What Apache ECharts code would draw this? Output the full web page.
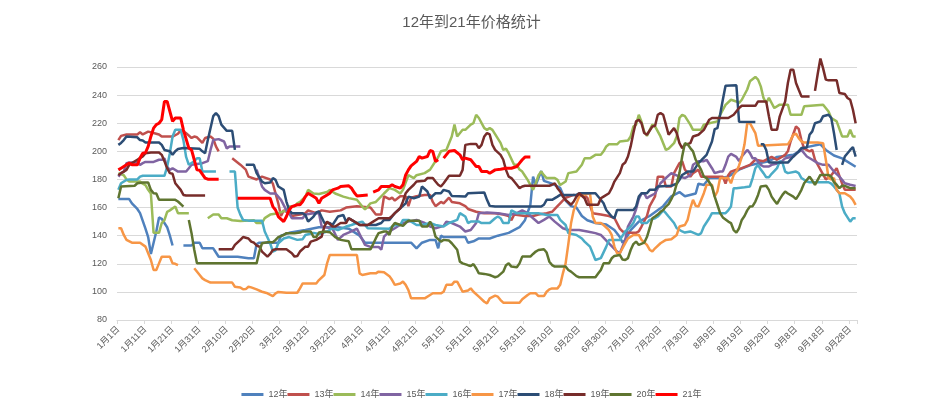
<!DOCTYPE html>
<html><head><meta charset="utf-8">
<script src="https://cdn.jsdelivr.net/npm/echarts@6/dist/echarts.min.js"></script>
<style>html,body{margin:0;padding:0;background:#fff}#c{width:943px;height:419px}</style>
</head><body><div id="c"></div>
<script>
const DAYS = 273;
const categories = [];
for (let i = 0; i < DAYS; i++) { const dt = new Date(2021, 0, 1 + i); categories.push((dt.getMonth() + 1) + '月' + dt.getDate() + '日'); }
const titleText = '12年到21年价格统计';
const seriesNames = ['12年','13年','14年','15年','16年','17年','18年','19年','20年','21年'];
const colors = ['#4F81BD','#C0504D','#9BBB59','#8064A2','#4BACC6','#F79646','#2C4D75','#772C2A','#5F7530','#FF0000'];
const yTicks = { min: 80, max: 260, step: 20 };

// [dayIndex, value]; null = gap
const s12 = [[0,166],[4,166],[5,163],[7,159],[8,156],[10,145],[11,139],[12,127],[13,135],[14,143],[15,153],[16,152],[18,146],[19,140],[20,133],[21,null],[24,133],[27,133],[28,135],[30,135],[31,131],[35,131],[36,128],[37,125],[44,125],[48,124],[50,124],[51,134],[52,135],[59,135],[60,140],[63,142],[69,144],[74,146],[81,146],[85,145],[89,140],[91,135],[108,135],[110,131],[112,135],[115,137],[117,137],[118,131],[119,140],[120,139],[128,139],[129,135],[131,136],[133,138],[137,138],[140,140],[144,142],[148,146],[150,151],[152,162],[153,182],[154,176],[156,186],[157,179],[160,177],[163,174],[165,165],[167,161],[169,160],[171,154],[173,151],[176,149],[180,148],[183,144],[185,139],[186,135],[187,137],[189,144],[192,150],[196,154],[201,161],[204,168],[207,171],[209,168],[213,170],[214,177],[216,176],[218,181],[222,181],[225,182],[229,187],[233,190],[235,191],[240,193],[243,196],[249,197.5],[254,203],[259,205],[261,201],[264,197],[267,195],[272,189]];
const s13 = [[0,208],[1,211],[3,212],[7,212],[8,213.5],[9,212],[11,214],[13,213],[15,212],[16,210.5],[20,210.5],[22,212.5],[23,215],[25,213],[27,209.5],[28,210.5],[29,210],[30,208],[31,206],[32,209.5],[34,210.5],[35,209],[36,203.5],[37,200],[38,null],[42,195],[45,190.5],[47,187],[48,182],[51,180],[53,182],[56,180],[57,177],[58,170],[59,163],[60,154],[61,158],[63,156],[64,154],[67,155],[69,156],[70,158],[73,156],[75,158],[78,157],[82,158],[84,160],[88,161],[93,160],[95,155],[97,155],[98,168],[100,166],[101,167],[102,165],[104,168],[106,168],[107,161],[108,167],[110,168],[113,169],[115,169],[116,164],[117,161],[119,164],[120,163],[122,167],[123,164],[126,163],[128,161],[129,159],[132,157],[135,156],[139,156],[142,155],[144,154],[145,151],[146,155],[150,154],[153,154],[155,155],[158,156],[160,157],[162,161],[163,163],[165,167],[168,169],[170,168],[171,170],[173,167],[175,156],[178,155],[181,154],[183,152.6],[185,145],[186,143],[188,142],[191,142],[192,143],[193,146.5],[195,154],[196,161],[198,168],[199,182],[201,182],[202,175],[204,175],[205,184.5],[207,191.6],[208,193],[209,187],[211,182],[212,184.5],[214,187],[215,182],[223,182],[224,177],[225,183],[226,185.6],[228,187],[230,188],[233,190.4],[235,194],[238,193],[241,196],[243,194],[246,197.5],[247,200],[248,207],[250,217.7],[251,216],[252,208],[253,202],[255,200],[256,201],[257,194],[259,187],[261,180],[263,183],[265,188],[267,177],[268,172.6],[272,172.6]];
const s14 = [[0,184.5],[2,183],[3,180],[4,178.5],[8,178.5],[9,177],[10,176],[11,172.6],[12,170],[13,142],[15,142],[16,149],[17,151],[18,157],[19,158],[21,160.7],[22,156],[26,156],[27,null],[33,152.4],[35,155],[37,155],[38,152.4],[40,152.4],[42,151],[45,150.5],[50,151],[51,149],[53,149],[54,152.5],[56,155],[59,156],[62,158],[63,160.7],[65,160.7],[66,163],[67,164],[69,167.8],[70,172.6],[72,170],[74,169.7],[77,171],[78,172.6],[80,170],[83,167.8],[85,166.7],[88,165.5],[90,160.7],[91,158.8],[92,160.7],[93,163],[95,164],[98,170],[100,173.8],[102,172.6],[104,170],[105,172.6],[107,183],[109,181],[110,183],[113,184.5],[115,187],[118,196],[119,200],[121,201],[123,210.6],[124,219],[125,210.6],[127,215.3],[128,215.3],[130,219],[131,220],[132,226],[133,223.7],[135,216.5],[136,215.3],[137,216.5],[138,215.3],[141,206],[142,201],[143,202],[144,198.7],[146,190.4],[147,190.4],[148,187],[149,185.6],[150,182.6],[151,179.7],[153,172.6],[154,177.3],[155,183],[156,185.6],[157,183],[158,181],[161,181],[162,179.7],[163,176],[165,178.5],[166,184.5],[169,185.6],[171,190.4],[172,195],[174,195],[176,197.5],[178,197.5],[179,200],[180,203.5],[181,205],[184,205],[185,207],[188,207.7],[189,210.6],[190,217.7],[191,219],[192,226],[193,221],[194,214],[195,211],[197,219],[198,217.7],[200,210.6],[202,201],[203,202],[205,205.8],[206,210.6],[207,223.7],[208,226],[209,225],[211,219],[212,215.3],[215,215.3],[216,219],[218,220],[221,221.3],[222,226],[224,233],[226,236.7],[228,235.5],[229,234.4],[230,236.7],[232,244],[233,249.8],[235,252.9],[236,251],[237,246.2],[238,238],[239,234.4],[240,238],[241,234.4],[242,230.8],[244,233.2],[247,233.2],[248,226],[252,226],[253,232],[260,233.2],[262,228.4],[263,223.7],[265,221.3],[267,210.6],[269,210.6],[270,215.3],[271,210.6],[272,210.6]];
const s15 = [[0,182],[1,184.5],[2,185.6],[3,191.6],[4,192],[7,192],[8,190.4],[9,191.6],[10,192.5],[13,192.5],[15,194],[16,194],[17,195],[18,189],[19,186.8],[20,188],[22,185.6],[25,185.6],[26,188],[27,190.4],[31,191.6],[33,193],[34,201],[35,208],[37,208.7],[39,207],[40,202],[41,203.5],[45,203.5],[46,null],[51,187],[53,175],[54,172.6],[56,170],[58,170],[60,165.5],[62,158],[63,156],[64,152.4],[68,152.4],[69,155],[72,156],[74,156],[75,146.5],[79,145],[81,137],[83,140.5],[86,143],[88,145],[91,133.4],[93,132],[96,132],[97,130],[98,139.3],[100,143],[102,145.3],[105,149],[107,150],[110,151.2],[113,149],[115,146.5],[117,145.3],[120,147],[121,150],[123,149],[126,146.5],[128,143],[130,144],[132,149],[133,156],[136,156.5],[140,156],[144,154.7],[147,156],[149,158],[151,156],[153,152.4],[155,149],[157,151.2],[159,153.6],[161,150],[164,145.3],[166,144],[170,144],[173,143],[176,141.8],[178,140.5],[181,134.6],[184,128.7],[185,127.5],[187,137],[188,146.5],[190,153.6],[191,158.8],[192,166],[193,170],[194,170],[195,166.6],[196,168],[198,170],[200,177.3],[202,181],[204,184.5],[207,182],[209,181],[211,183],[212,190.4],[214,193],[216,193],[217,194],[219,188],[220,184.5],[222,185.6],[223,185.6],[224,190.4],[225,196.3],[226,198.2],[228,196],[229,193],[230,196.3],[232,201],[233,198.7],[234,195],[235,195],[237,190.4],[238,189.2],[240,189.2],[241,190.4],[244,191.6],[246,195],[249,196.3],[251,200],[252,201],[254,196.3],[256,194],[258,191.6],[260,190.4],[262,190.4],[264,185.6],[266,182],[267,179.7],[268,177.3],[270,176.2],[272,175.4]];
const s16 = [[0,172.6],[1,177.3],[3,179.7],[4,180],[7,180],[8,182],[9,182.6],[17,182.6],[18,189],[19,198.7],[20,210.6],[21,215.3],[23,215.3],[24,208],[25,196],[26,190.4],[28,193],[29,195],[30,195],[31,185.6],[36,185.6],[37,null],[41,185.6],[43,185.6],[44,160],[45,155],[46,151.2],[48,150.7],[53,150.7],[54,143],[56,134.6],[57,128.7],[58,129.5],[59,134.6],[61,138],[63,139],[66,137],[68,137.5],[69,140.5],[72,142],[74,141.2],[77,143],[79,145.3],[81,144],[84,146.5],[86,147.6],[88,149],[90,150],[92,145.3],[100,145],[102,147.6],[104,147.6],[105,151.2],[107,151.2],[110,147.6],[112,147.6],[115,149],[117,147.6],[120,146.5],[122,149],[125,151.2],[126,156],[128,153.6],[129,149],[130,150],[133,150],[134,149],[137,149],[139,152.4],[140,153.6],[141,152.4],[142,149],[144,149],[145,158],[147,156],[155,156],[158,154.7],[162,154.7],[163,151.2],[165,147.6],[166,141.8],[169,140.5],[171,138],[172,135.8],[174,132.2],[175,127.5],[176,122.7],[178,124],[180,132.2],[181,137],[185,137],[187,143],[189,146.5],[190,149],[191,153.6],[192,153.6],[193,149],[195,149],[196,151.2],[198,152.4],[199,153.6],[201,158],[202,156],[203,153.6],[205,149],[206,145.3],[208,143],[209,142.2],[211,143],[214,140.5],[215,141.8],[216,146.5],[218,152.4],[219,156],[224,156],[225,158],[226,160.7],[227,173.8],[228,173.8],[231,174.5],[233,175],[234,181],[235,188],[236,190.4],[237,187],[238,184.5],[239,181.6],[240,181.6],[241,184],[243,188],[244,193],[245,192],[246,185.6],[247,184.5],[250,185.6],[251,184.5],[252,181],[254,178.5],[255,178],[262,178],[263,177],[264,175],[266,170.2],[267,160.7],[268,156],[270,150],[271,152.4],[272,152.4]];
const s17 = [[0,145.3],[1,145.3],[2,140.5],[3,137],[5,135],[8,135],[10,132.2],[11,127.5],[12,122.7],[13,115.6],[14,115.6],[15,120.3],[16,125],[19,125],[20,120.3],[21,120],[22,119],[23,null],[28,116.8],[30,112],[31,109.6],[32,108.4],[34,106.6],[42,106.6],[43,103.7],[45,103.2],[46,101.8],[47,102],[48,103.7],[49,103.2],[51,101.8],[53,100.1],[55,99],[57,97],[58,99],[59,100],[62,99.4],[66,99.4],[67,102.5],[68,106],[73,106],[74,108.4],[76,112],[77,120.3],[78,126.3],[88,126.3],[89,113.2],[90,112],[93,113.2],[95,113.2],[96,114.4],[98,114],[100,111.2],[101,108.4],[102,105],[104,106],[105,107.3],[106,105],[107,101.3],[108,95.4],[113,95.4],[115,97.8],[116,99],[119,99],[120,100.1],[121,105],[123,105],[124,107.3],[125,107.3],[126,103.7],[127,100.1],[129,101],[130,102.5],[131,100.1],[133,96.6],[135,93],[136,91.8],[137,95.4],[139,97.3],[140,96.6],[141,94.2],[142,92.3],[148,92.3],[149,94.7],[151,97.8],[152,99],[154,99],[155,97],[157,97],[158,100.1],[159,101.8],[160,102.5],[162,102.5],[163,105],[164,113.2],[165,120.3],[166,134],[167,148.8],[168,158],[169,163],[170,167.8],[171,169.7],[172,169],[174,170.2],[175,153.6],[176,149],[178,149],[179,147.6],[181,144],[182,140.5],[183,132.2],[184,127.5],[185,127.5],[187,134.6],[188,138],[190,140.5],[192,140.5],[193,137],[195,133.4],[196,130],[197,128.7],[198,131],[200,134.6],[202,137],[204,137.4],[206,140.5],[207,146.5],[209,147.6],[210,151.2],[211,159.5],[212,165.5],[213,161.2],[214,160.7],[216,170.2],[217,176.2],[219,176.2],[220,167.8],[221,171.4],[222,181],[225,181],[226,177.3],[227,183.2],[228,185.6],[229,190],[230,196],[231,205],[232,220],[233,220],[234,216.5],[235,213],[236,204],[247,205],[248,208],[249,211.8],[250,212.5],[251,209.4],[252,207],[253,206.3],[258,206.3],[260,205.8],[261,194],[262,181],[263,180],[264,181],[265,172.6],[266,170.2],[268,170.2],[270,167.8],[271,165.5],[272,161.9]];
const s18 = [[0,204.6],[1,206],[2,208],[3,210.6],[7,210],[8,208],[9,207.7],[10,206.3],[15,206.3],[16,204.6],[17,201],[19,200],[20,197.5],[21,200],[22,201.6],[24,202.3],[30,201.8],[31,200],[32,198.7],[33,208],[35,225],[36,227.2],[37,225],[38,219],[40,214.6],[42,214.6],[43,201],[44,null],[47,190.4],[50,190.4],[51,184.5],[53,178.5],[54,177.3],[56,177.8],[57,181],[58,179.7],[59,175],[61,172.6],[62,164.3],[63,158.3],[64,156],[68,156],[69,154.7],[70,150],[72,153.6],[73,156.5],[74,157.2],[75,153],[76,149],[78,149],[79,147.6],[81,153.6],[83,154.7],[84,150],[85,152.4],[86,151.2],[89,147.6],[95,147.6],[97,149],[98,151.2],[100,151.2],[101,153.6],[102,156],[104,159.5],[106,163],[107,167.8],[109,166.6],[111,167.8],[112,175],[114,171.4],[115,166.6],[117,170.2],[119,170.2],[120,172.6],[122,171.4],[123,168.3],[128,167.8],[129,170.2],[135,170.7],[136,165.5],[137,161.2],[139,160.7],[156,160.7],[157,162],[158,165.5],[160,165.5],[162,167.8],[163,169],[169,169],[170,170.2],[176,170.2],[178,165.5],[179,163],[180,158.3],[182,153.6],[183,152.4],[184,158.3],[190,158.3],[191,160.7],[192,167.8],[193,170.2],[195,170.2],[196,172.6],[198,172.6],[199,175],[204,175.5],[206,177],[207,179.7],[208,183.2],[210,185.6],[212,185.6],[214,191.6],[215,193.5],[217,197.5],[219,207],[220,215.8],[221,216.5],[222,226],[223,236.7],[224,246.7],[228,247],[229,221],[235,220.8],[236,null],[237,205],[238,205],[239,201],[240,192],[247,192],[249,196.3],[251,200],[252,202.3],[254,202.7],[255,211.8],[256,214.2],[257,220],[259,221.3],[260,225],[262,226],[263,223.7],[264,213],[265,201],[266,null],[267,190.4],[268,196.3],[270,201],[271,203],[272,196.3]];
const s19 = [[0,183],[1,184.5],[2,185.6],[3,186.8],[4,190.4],[5,191.6],[7,194],[8,195.2],[9,196.3],[10,198.7],[12,199.2],[15,199.2],[16,197.5],[17,193],[18,188],[19,184.5],[20,184],[21,177.3],[23,172.6],[24,169],[25,168.6],[32,168.6],[33,null],[37,130.3],[42,130.3],[43,133.4],[45,137],[46,139],[48,138],[49,135.8],[50,135],[51,133],[52,132.2],[53,128.7],[55,125.1],[56,127],[57,129.8],[58,130.3],[62,130.3],[64,127.5],[65,125.1],[66,125.5],[67,128.7],[69,132.2],[70,132.2],[71,135.8],[73,137],[75,139.3],[76,146.5],[77,150],[79,146.5],[80,146.5],[82,149],[84,149],[85,152.4],[86,151.2],[88,149],[89,147.6],[92,147.6],[94,150],[96,152.4],[100,152.4],[101,154],[102,156],[104,159.5],[105,164.3],[106,170.2],[107,172.6],[109,176.2],[110,178.5],[113,179],[114,181],[116,181],[117,178.5],[118,176.2],[119,175],[120,177.3],[122,182.6],[126,182.6],[127,186.8],[128,204.6],[130,205.3],[132,205.3],[133,202.3],[134,204.6],[135,210.6],[136,213],[137,212],[138,204.6],[139,201],[141,197.5],[142,194],[143,186.8],[144,182],[145,181],[147,176.2],[148,173.8],[149,175],[150,175.5],[159,175.5],[160,176.2],[161,177.3],[162,173.8],[163,171.4],[164,167.8],[165,165.5],[167,162],[168,164.3],[169,167.8],[170,170.2],[172,166.6],[173,162],[177,162],[178,166.6],[179,167.8],[181,170.2],[182,173.8],[183,178.5],[185,184.5],[186,190.4],[187,192],[188,196.3],[189,203.5],[190,213],[191,221.3],[192,222.5],[193,220],[194,213],[195,211.8],[197,217.7],[198,218.2],[199,226],[200,227.2],[201,226],[202,219],[203,211.8],[205,216.5],[206,213],[207,205.8],[208,202.3],[209,204.6],[211,205.8],[212,210.6],[214,211.8],[216,215.3],[218,222.5],[219,223.7],[225,223.7],[227,226],[229,230.8],[230,232.4],[235,232.4],[236,235.5],[239,235.5],[240,224.9],[241,215.3],[243,215.3],[244,224.9],[246,235.5],[247,248.6],[248,258],[249,258],[250,248.6],[251,243.8],[252,239.1],[255,239.1],[256,null],[257,243],[258,255],[259,266],[260,259],[261,251],[262,250.5],[265,250.5],[266,241.5],[268,240.8],[269,238],[270,236.7],[271,229.6],[272,220]];
const s20 = [[0,166.6],[1,175],[6,175.5],[7,177.3],[9,177.8],[11,177.8],[12,172.6],[13,170.2],[14,170],[15,165.5],[21,165.5],[22,164.3],[24,160.7],[25,null],[26,151.2],[27,141.8],[28,130],[29,120.3],[51,120.3],[52,128.7],[53,134.6],[55,135.3],[57,135.3],[58,137],[59,139],[61,140.5],[62,141.8],[65,141.8],[67,142.2],[68,143],[71,143],[72,139],[73,139],[74,142.2],[76,143],[78,142.5],[80,139],[81,138],[82,137],[85,136],[86,130.3],[93,130.3],[94,134],[95,138.2],[96,141.8],[98,143],[99,143],[100,140.5],[101,146.5],[102,149],[104,147.6],[105,147],[106,149],[107,150.7],[111,150.7],[112,146.5],[114,146.5],[115,150],[116,146.5],[117,139.3],[119,135.8],[120,137],[122,136.5],[123,134.6],[125,130],[126,121.5],[127,120.3],[129,119],[130,118.4],[131,119.8],[132,116.8],[133,113.2],[135,112.8],[137,112],[138,111.2],[139,110.4],[140,111],[142,114.4],[143,119],[144,120.3],[145,118],[147,117.5],[148,120.3],[149,125.1],[152,125.1],[153,127],[154,128.7],[155,129.8],[157,130.3],[158,128],[159,121.5],[160,119.1],[161,118],[165,118],[166,115.6],[167,114.4],[169,111.2],[170,110.4],[176,110.4],[177,113],[178,115.6],[179,120.3],[181,120.3],[182,123.9],[183,125.6],[185,126.3],[186,123],[187,122.7],[188,124],[189,129.8],[190,134],[191,135.8],[192,133.4],[194,135],[195,139],[196,145.3],[197,152.4],[198,153.6],[199,155],[200,157],[201,158.3],[202,160.7],[203,162.5],[204,166],[205,170],[206,177],[207,184.5],[208,196.3],[209,205.8],[210,205],[211,202.3],[212,200],[213,194],[215,186.8],[216,182],[217,181],[219,175],[220,167.8],[221,162],[222,156],[223,153],[225,150],[226,149],[227,144],[228,142.2],[229,145.3],[230,151.2],[231,154],[232,158],[233,160.7],[234,161],[235,164.3],[236,169],[237,175],[239,175.5],[240,172.6],[241,167.8],[242,165],[243,162.6],[244,166],[245,169],[246,171.4],[247,170],[249,167.8],[250,166],[251,169],[252,172.6],[253,177.3],[255,182],[256,179.2],[257,176.2],[258,179.7],[259,183.2],[262,183.2],[263,182],[264,178],[265,176.2],[266,173.8],[267,175.5],[268,175.5],[270,173.8],[272,173.8]];
const s21 = [[0,186.8],[1,188],[3,190.4],[4,191.6],[5,190.4],[7,190.4],[8,195.2],[9,198.7],[10,199],[11,203.5],[12,210.6],[13,216.5],[14,219],[15,220],[16,222.5],[17,235.5],[18,235.5],[19,228.4],[20,221.3],[21,223.7],[23,223.7],[24,215.3],[26,202.3],[27,201],[28,194],[29,186.8],[30,186.5],[32,181],[33,180.2],[37,180.2],[38,null],[44,166.6],[56,166.6],[57,160.7],[58,158.3],[59,153.6],[61,150],[62,153.6],[63,158.3],[64,160.7],[66,162],[67,162],[68,164.3],[69,167.8],[70,170.2],[72,167.8],[73,166.6],[74,163],[75,166.6],[77,169],[78,170.2],[79,172.6],[81,173.8],[82,175],[85,175.5],[86,173.8],[87,170.7],[88,168.3],[92,169],[93,null],[94,171],[96,172.6],[97,175],[100,175],[101,176.2],[102,175],[104,173.8],[105,176.2],[106,183.2],[107,186.8],[108,189.7],[110,192.8],[111,196.3],[112,195.2],[114,196.3],[115,200.6],[116,200],[117,192.8],[118,194],[119,null],[120,195.2],[122,200],[124,200.6],[126,197.5],[127,194],[128,195.2],[130,194],[131,191.6],[132,189.2],[133,189.2],[134,185.6],[136,185.6],[137,184.4],[139,186.8],[141,187.3],[143,188],[145,188],[147,189.2],[148,191.6],[149,194],[150,195.9],[152,195.9]];

const seriesData = [s12,s13,s14,s15,s16,s17,s18,s19,s20,s21];
const FONT = "'Liberation Sans','Noto Sans CJK SC',sans-serif";

const chart = echarts.init(document.getElementById('c'), null, { renderer: 'canvas' });
chart.setOption({
  animation: false,
  backgroundColor: '#fff',
  color: colors,
  title: { text: titleText, left: 'center', top: 10, textStyle: { fontSize: 15, fontWeight: 'normal', color: '#595959', fontFamily: FONT } },
  legend: { data: seriesNames, left: 'center', top: 385, icon: 'rect', itemWidth: 22, itemHeight: 3, itemGap: 0,
    textStyle: { fontSize: 9, color: '#595959', fontFamily: FONT } },
  grid: { left: 117, right: 86, top: 67, bottom: 99, containLabel: false },
  xAxis: { type: 'category', data: categories, boundaryGap: true,
    axisLine: { lineStyle: { color: '#D9D9D9', width: 1 } },
    axisTick: { show: true, interval: 9, length: 4, lineStyle: { color: '#D9D9D9' } },
    axisLabel: { interval: 9, rotate: 45, fontSize: 9, color: '#595959', margin: 8, fontFamily: FONT },
    splitLine: { show: false } },
  yAxis: { type: 'value', min: yTicks.min, max: yTicks.max, interval: yTicks.step,
    axisLine: { show: false }, axisTick: { show: false },
    axisLabel: { fontSize: 9, color: '#595959', margin: 10, fontFamily: FONT },
    splitLine: { lineStyle: { color: '#D9D9D9', width: 1 } } },
  series: seriesNames.map((n, i) => ({
    name: n, type: 'line', symbol: 'none', showSymbol: false, clip: false, connectNulls: false,
    lineStyle: { width: i === 9 ? 3 : 2.5, color: colors[i] },
    itemStyle: { color: colors[i] },
    data: seriesData[i].map(p => [p[0], p[1] === null ? '-' : p[1]])
  }))
});
</script></body></html>
